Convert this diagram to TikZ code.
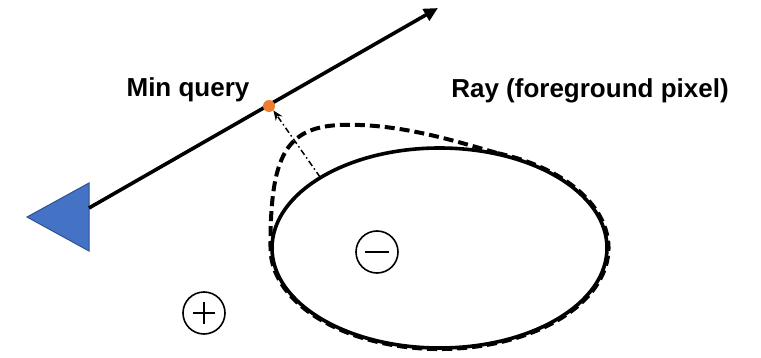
\documentclass[tikz,border=0pt]{standalone}
\usepackage{fontspec}
\setmainfont{Liberation Sans}
\usetikzlibrary{arrows.meta,shapes.geometric}
\definecolor{triblue}{HTML}{4472C4}
\definecolor{triedge}{HTML}{2F528F}
\definecolor{dotorange}{HTML}{ED7D31}
\tikzset{
  lbl/.style={font=\fontsize{26}{31}\selectfont\bfseries, anchor=base, inner sep=0pt},
  sign/.style={circle, draw, line width=1.6pt, minimum size=42pt, inner sep=0pt},
  rayline/.style={line width=3.6pt, -{Triangle[length=14pt,width=13pt]}},
  solidshape/.style={line width=3.6pt},
  dashshape/.style={line width=4pt, dash pattern=on 10pt off 5pt},
  hint/.style={line width=1.5pt, dash pattern=on 6pt off 3pt on 1.5pt off 3pt, -{Stealth[length=10pt,width=8pt]}}
}
\begin{document}
\begin{tikzpicture}[x=1pt,y=1pt]
\useasboundingbox (0,0) rectangle (761,357);
% camera triangle
\draw[fill=triblue, draw=triedge, line width=1pt] (27,140) -- (89,174) -- (89,106) -- cycle;
\coordinate (raystart) at (89,149);
\coordinate (rayend) at (438,349);
\draw[rayline] (raystart) -- (rayend);
% ellipse (solid)
\node[draw, solidshape, ellipse, minimum width=335pt, minimum height=200pt, inner sep=0pt] (blob) at (439.5,109) {};
% dashed deformed shape
\coordinate (join) at ({439.5+169*cos(70)},{109+101*sin(70)});
\draw[dashshape] (join) arc[start angle=70, end angle=-180, x radius=169, y radius=101]
  .. controls (270,212) and (290,235) .. (360,232)
  .. controls (410,230) and (455,216) .. (join);
% min query point
\node[circle, fill=dotorange, minimum size=12pt, inner sep=0pt] (minpt) at (269,251) {};
\coordinate (hintstart) at (320,180);
\draw[hint] (hintstart) -- (minpt.south east);
% signs
\node[sign] (minus) at (377,105) {};
\draw[line width=1.6pt] ([xshift=-12pt]minus.center) -- ([xshift=12pt]minus.center);
\node[sign] (plus) at (204,44) {};
\draw[line width=1.6pt] ([xshift=-11pt]plus.center) -- ([xshift=11pt]plus.center);
\draw[line width=1.6pt] ([yshift=-11pt]plus.center) -- ([yshift=11pt]plus.center);
% labels
\node[lbl] (minlbl) at (188,260) {Min query};
\node[lbl] (raylbl) at (590,259) {Ray (foreground pixel)};
\end{tikzpicture}
\end{document}
